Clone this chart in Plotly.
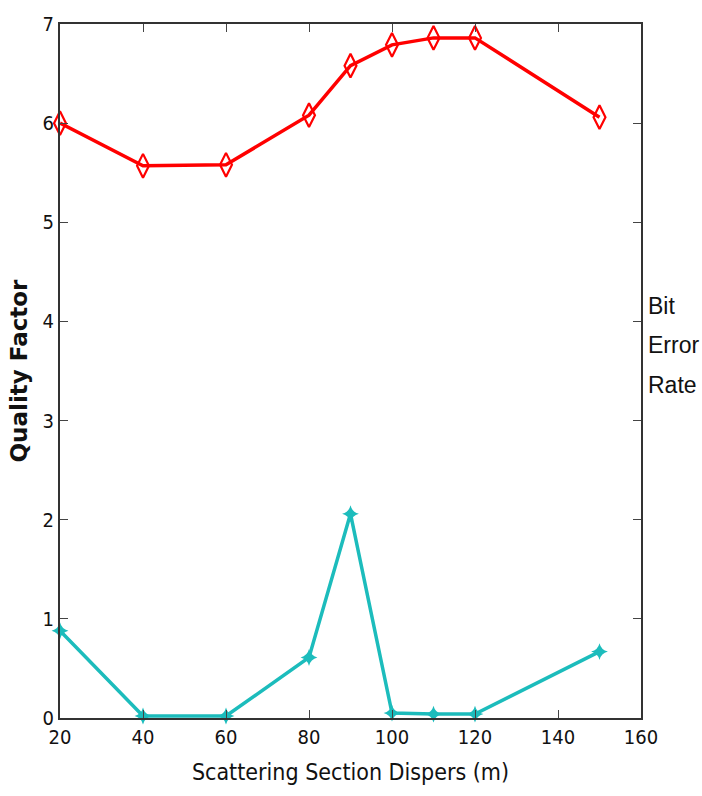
import plotly.graph_objects as go

x_vals = [20, 40, 60, 80, 90, 100, 110, 120, 150]
quality_factor = [6.0, 5.57, 5.58, 6.08, 6.58, 6.79, 6.86, 6.86, 6.06]
bit_error_rate = [0.88, 0.02, 0.02, 0.61, 2.06, 0.05, 0.04, 0.04, 0.67]
x_ticks = [20, 40, 60, 80, 100, 120, 140, 160]
y_ticks = [0, 1, 2, 3, 4, 5, 6, 7]
right_label = ["Bit", "Error", "Rate"]

NARROW = "DejaVu Sans Condensed, Liberation Sans Narrow, Arial Narrow, sans-serif"

fig = go.Figure()
fig.add_trace(go.Scatter(
    x=x_vals, y=quality_factor, mode="lines+markers",
    line=dict(color="#ff0000", width=3.5),
    marker=dict(symbol="diamond-tall-open", size=17, color="#ff0000",
                line=dict(width=2.2, color="#ff0000")),
    showlegend=False, cliponaxis=False))
fig.add_trace(go.Scatter(
    x=x_vals, y=bit_error_rate, mode="lines+markers",
    line=dict(color="#1cbcbc", width=3.5),
    marker=dict(symbol="star-diamond", size=12, color="#1cbcbc"),
    showlegend=False, cliponaxis=False))

tick_font = dict(family=NARROW, size=20, color="#111")
fig.update_xaxes(range=[20, 160], tickvals=x_ticks, ticks="inside", ticklen=8,
                 mirror="ticks", showline=True, linecolor="#333", linewidth=2,
                 showgrid=False, zeroline=False, tickfont=tick_font,
                 title=dict(text="Scattering Section Dispers (m)",
                            font=dict(family=NARROW, size=23, color="#111"),
                            standoff=16))
fig.update_yaxes(range=[0, 7], tickvals=y_ticks, ticks="inside", ticklen=8,
                 mirror="ticks", showline=True, linecolor="#333", linewidth=2,
                 showgrid=False, zeroline=False, tickfont=tick_font,
                 title=dict(text="<b>Quality Factor</b>",
                            font=dict(family="DejaVu Sans, sans-serif", size=23, color="#111"),
                            standoff=8))
for i, word in enumerate(right_label):
    fig.add_annotation(text=word, xref="paper", yref="paper",
                       x=1.0, y=0.537 - (i - 1) * 0.057, xanchor="left", yanchor="middle", xshift=5,
                       showarrow=False, align="left",
                       font=dict(family="Liberation Sans, Arial, sans-serif", size=23, color="#111"))
fig.update_layout(width=702, height=796, margin=dict(l=60, r=61, t=18, b=78),
                  paper_bgcolor="white", plot_bgcolor="white")
fig.write_html("out.html")
